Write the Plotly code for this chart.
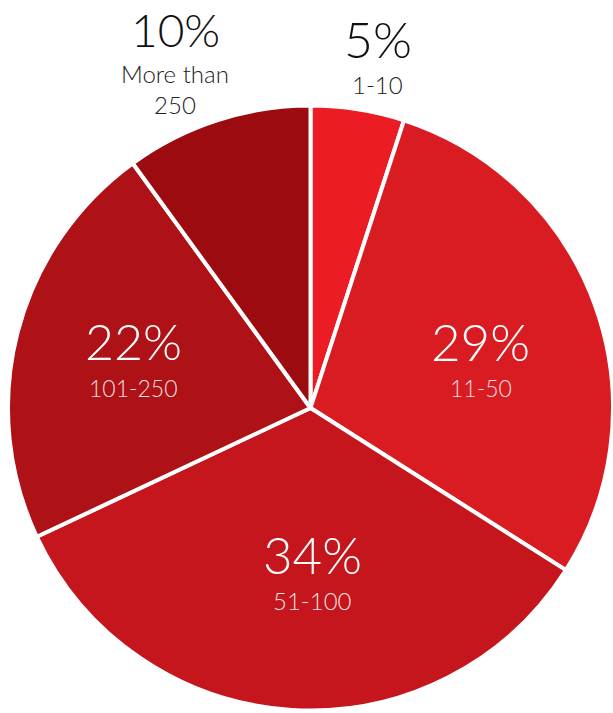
import plotly.graph_objects as go

categories = ["1-10", "11-50", "51-100", "101-250", "More than<br>250"]
values = [5, 29, 34, 22, 10]
pct_labels = ["5%", "29%", "34%", "22%", "10%"]
colors = ["#EC1C24", "#D91B22", "#C4161C", "#AE1116", "#9B0B10"]

W, H = 613, 713

fig = go.Figure(go.Pie(
    labels=categories,
    values=values,
    sort=False,
    direction="clockwise",
    rotation=0,
    marker=dict(colors=colors, line=dict(color="white", width=4)),
    textinfo="none",
    hoverinfo="label+percent",
    domain=dict(x=[8 / W, 1], y=[0, 1 - 103 / H]),
    showlegend=False,
))

# label placement (pixel centers): pct line y, category line y
label_pos = [
    (378, 39, 84, "#111111", 50, 24),
    (481, 341, 388, "white", 51, 23),
    (313, 554, 600, "white", 51, 24),
    (133, 341, 388, "white", 50, 23),
    (175, 30, 89, "#111111", 46, 24),
]

font_family = "Lato, 'Open Sans', sans-serif"
for (cx, py, cy, col, psz, csz), pct, cat in zip(label_pos, pct_labels, categories):
    fig.add_annotation(x=cx / W, y=1 - py / H, xref="paper", yref="paper",
                       xanchor="center", yanchor="middle",
                       text=pct, showarrow=False,
                       font=dict(family=font_family, size=psz, color=col, weight=300))
    fig.add_annotation(x=cx / W, y=1 - cy / H, xref="paper", yref="paper",
                       xanchor="center", yanchor="middle",
                       text=cat, showarrow=False,
                       font=dict(family=font_family, size=csz,
                                 color="rgba(255,255,255,0.88)" if col == "white" else "#222222",
                                 weight=300))

fig.update_layout(
    width=W, height=H,
    margin=dict(l=0, r=0, t=0, b=0),
    paper_bgcolor="white",
    plot_bgcolor="white",
)

fig.write_html("out.html",
               config={"displayModeBar": False},
               post_script="document.body.style.margin='0';document.body.style.overflow='hidden';")
